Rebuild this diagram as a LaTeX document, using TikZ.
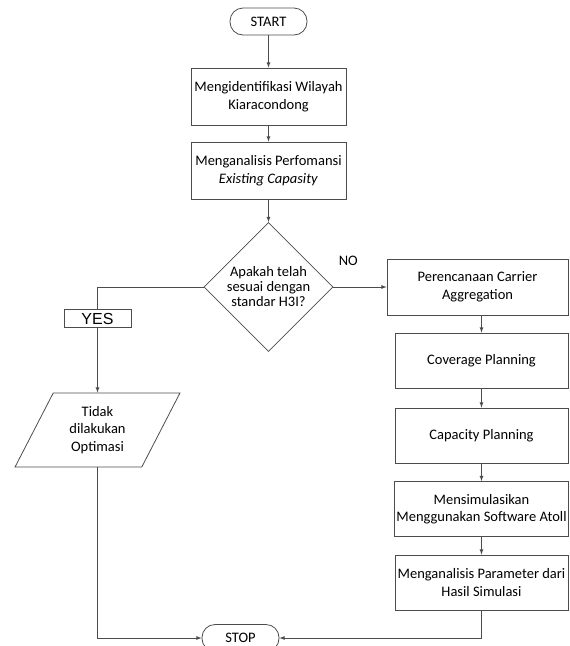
\documentclass[tikz,border=0pt]{standalone}
\usepackage{fontspec}
\setmainfont{Carlito}
\newfontfamily\yesfont{Liberation Sans}
\usetikzlibrary{shapes,arrows}

\begin{document}
\begin{tikzpicture}[x=1pt,y=-1pt,
		font=\fontsize{14.5}{17.5}\selectfont,
		kotak/.style={draw=black!70,line width=0.8pt,align=center,minimum width=173pt,minimum height=55pt,inner sep=2pt},
		ujung/.style={draw=black!70,line width=0.8pt,rounded corners=13pt,minimum width=77pt,minimum height=27pt},
		keputusan/.style={draw=black!70,line width=0.8pt,diamond,align=center,minimum width=129pt,minimum height=129pt,inner sep=0pt,font=\fontsize{14.5}{15}\selectfont},
		jajar/.style={draw=black!70,line width=0.8pt,trapezium,trapezium left angle=63.4,trapezium right angle=116.6,trapezium stretches=true,minimum width=165pt,minimum height=74pt,align=center},
		yes/.style={draw=black!70,line width=0.8pt,fill=white,font=\yesfont\fontsize{16}{16}\selectfont,minimum width=67pt,minimum height=18pt,inner sep=0pt},
		panah/.style={draw=black!70,line width=0.8pt,-latex}]

		\useasboundingbox (0,0) rectangle (570,646);
		\node[ujung] (start) at (268.5,21.5) {START};
		\node[kotak,minimum width=155pt,minimum height=57pt] (identifikasi) at (268.5,96.5) {Mengidentifikasi Wilayah\\Kiaracondong};
		\node[kotak,minimum width=155pt,minimum height=57pt] (performansi) at (268.5,170.5) {Menganalisis Perfomansi\\\textit{Existing Capasity}};
		\node[keputusan] (cek) at (268.5,287) {Apakah telah\\sesuai dengan\\standar H3I?};
		\node[jajar] (tidak) at (97.5,430) {Tidak\\dilakukan\\Optimasi};
		\node[kotak,minimum width=181pt,minimum height=56pt] (ca) at (477.5,287) {Perencanaan Carrier\\Aggregation};
		\node[kotak] (coverage) at (481.5,360.5) {Coverage Planning};
		\node[kotak] (capacity) at (481.5,435.5) {Capacity Planning};
		\node[kotak] (simulasi) at (481.5,509) {Mensimulasikan\\Menggunakan Software Atoll};
		\node[kotak] (hasil) at (481.5,582.5) {Menganalisis Parameter dari\\Hasil Simulasi};
		\node[ujung] (stop) at (240.5,638) {STOP};

		\draw[panah] (start) -- (identifikasi);
		\draw[panah] (identifikasi) -- (performansi);
		\draw[panah] (performansi) -- (cek);
		\draw[panah] (cek) -- node[pos=0.28,above=18pt] {NO} (ca);
		\draw[panah] (cek) -| node[yes,pos=0.65] {YES} (tidak);
		\draw[panah] (ca.south -| coverage) -- (coverage);
		\draw[panah] (coverage) -- (capacity);
		\draw[panah] (capacity) -- (simulasi);
		\draw[panah] (simulasi) -- (hasil);
		\draw[panah] (tidak) |- (stop);
		\draw[panah] (hasil) |- (stop);
		\end{tikzpicture}
\end{document}
